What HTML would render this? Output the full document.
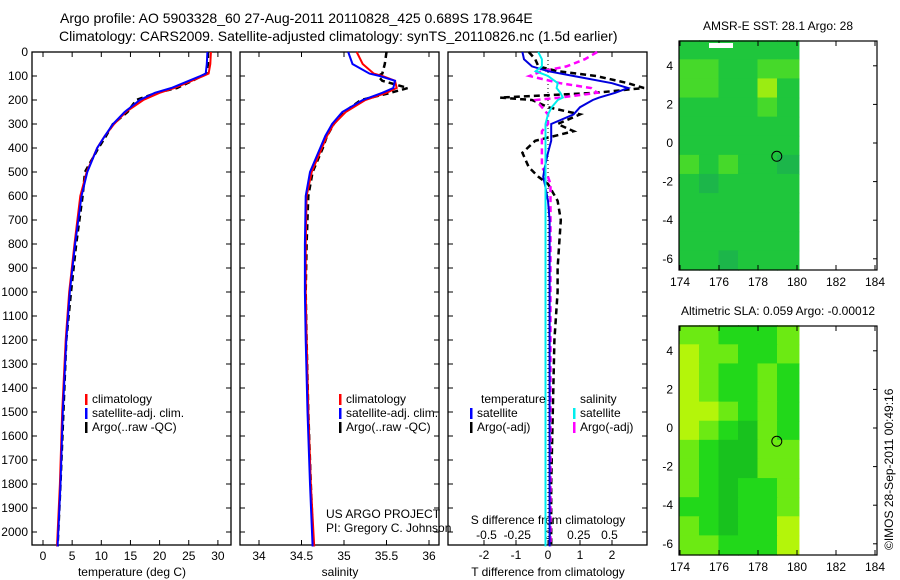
<!DOCTYPE html>
<html><head><meta charset="utf-8"><style>
html,body{margin:0;padding:0;background:#fff;}
svg{display:block;font-family:"Liberation Sans",sans-serif;}
</style></head><body>
<svg id="fig" width="900" height="580" viewBox="0 0 900 580" xmlns="http://www.w3.org/2000/svg">
<text x="60" y="23" font-size="14">Argo profile: AO 5903328_60 27-Aug-2011 20110828_425 0.689S 178.964E</text>
<text x="59" y="41" font-size="14">Climatology: CARS2009. Satellite-adjusted climatology: synTS_20110826.nc (1.5d earlier)</text>
<g id="g"></g>
<text transform="translate(893,550) rotate(-90)" font-size="12">©IMOS 28-Sep-2011 00:49:16</text>
</svg>
<script>
// ---- data ----
const tDepth   = [0, 50, 90, 100, 120, 150, 170, 200, 250, 300, 350, 400, 500, 600, 800, 1000, 1200, 1500, 1800, 2060];
const tClim    = [28.8, 28.7, 28.4, 27.5, 25.5, 22.5, 20.0, 17.2, 14.2, 12.2, 10.6, 9.3, 7.5, 6.4, 5.4, 4.5, 3.9, 3.3, 2.9, 2.4];
const tSat     = [28.2, 28.1, 27.9, 27.0, 25.0, 22.0, 19.2, 16.6, 14.0, 12.0, 10.6, 9.3, 7.6, 6.6, 5.5, 4.6, 4.0, 3.4, 3.0, 2.5];
const tArgo    = [28.3, 28.3, 28.0, 27.2, 25.6, 23.0, 19.5, 16.0, 14.5, 12.0, 10.8, 9.5, 7.2, 6.8, 5.7, 4.8, 4.0, 3.5, 3.0, 2.5];
const sClim    = [35.15, 35.22, 35.35, 35.45, 35.6, 35.62, 35.5, 35.25, 35.02, 34.88, 34.80, 34.74, 34.62, 34.56, 34.55, 34.55, 34.56, 34.58, 34.61, 34.65];
const sSat     = [35.05, 35.1, 35.3, 35.42, 35.6, 35.58, 35.45, 35.22, 34.98, 34.86, 34.78, 34.72, 34.60, 34.55, 34.54, 34.54, 34.55, 34.57, 34.60, 34.63];
const sArgo    = [35.5, 35.48, 35.45, 35.4, 35.45, 35.75, 35.55, 35.2, 35.0, 34.88, 34.80, 34.75, 34.63, 34.58, 34.56, 34.55, 34.56, 34.58, 34.61, 34.64];
const dDepth   = [0, 30, 60, 80, 100, 130, 150, 170, 190, 200, 230, 260, 300, 330, 370, 420, 480, 520, 550, 620, 700, 800, 900, 1000, 1200, 1500, 1800, 2060];
const dTSat    = [-0.8, -0.75, -0.5, 0.0, 0.8, 2.0, 2.5, 2.1, 1.6, 1.4, 1.0, 0.8, 0.1, 0.1, 0.1, 0.0, -0.1, -0.15, -0.1, 0.0, 0.05, 0.05, 0.05, 0.05, 0.05, 0.05, 0.05, 0.05];
const dTArgo   = [-0.6, -0.4, -0.3, 0.3, 1.5, 2.5, 3.0, 1.5, -1.5, -0.5, 0.0, 1.0, 0.3, 0.8, -0.4, -0.8, -0.6, -0.3, 0.0, 0.3, 0.4, 0.35, 0.3, 0.3, 0.2, 0.15, 0.1, 0.1];
const dSSat    = [-0.08, -0.05, -0.05, -0.1, 0.0, 0.08, 0.07, 0.1, 0.12, 0.08, 0.03, 0.0, -0.02, -0.02, -0.02, -0.02, -0.02, -0.02, -0.02, -0.02, -0.02, -0.02, -0.02, -0.02, -0.02, -0.02, -0.02, -0.02];
const dSArgo   = [0.4, 0.3, 0.15, -0.05, -0.15, 0.1, 0.35, 0.4, 0.1, -0.1, -0.05, 0.0, 0.0, -0.05, -0.05, -0.05, -0.05, 0.0, 0.02, 0.02, 0.02, 0.02, 0.02, 0.02, 0.02, 0.02, 0.02, 0.02];
const depthTicks = [0,100,200,300,400,500,600,700,800,900,1000,1100,1200,1300,1400,1500,1600,1700,1800,1900,2000];
const tTicks = [0,5,10,15,20,25,30];
const sTicks = [34,34.5,35,35.5,36];
const dtTicks = [-2,-1,0,1,2];
const dsTicks = [-0.5,-0.25,0,0.25,0.5];
const lonTicks = [174,176,178,180,182,184];
const latTicks = [4,2,0,-2,-4,-6];
// map cell values (rows from north, 1 deg cells), 0=teal 1=green 2=light 3=yellow
const sstGrid = [
 [1,1,1,1,1,1],[2,2,1,1,2,2],[2,2,1,1,3,1],[1,1,1,1,2,1],[1,1,1,1,1,1],[1,1,1,1,1,1],
 [2,1,2,1,1,0],[1,0,1,1,1,1],[1,1,1,1,1,1],[1,1,1,1,1,1],[1,1,1,1,1,1],[1,1,0,1,1,1]];
const slaGrid = [
 [2,2,1,1,1,2],[3,2,2,1,1,2],[3,2,1,1,2,1],[3,2,1,1,2,1],[3,3,2,1,2,1],[3,2,1,0,2,1],
 [2,1,0,0,2,2],[2,1,0,0,2,2],[2,1,0,1,1,2],[1,1,0,1,1,2],[2,1,0,1,1,3],[2,2,1,1,1,3]];
// ---- drawing ----
const NS='http://www.w3.org/2000/svg', G=document.getElementById('g');
function el(t,a,p){const e=document.createElementNS(NS,t);for(const k in a)e.setAttribute(k,a[k]);(p||G).appendChild(e);return e;}
const yD = d => 52 + d*0.24;
const TOP=52, BOT=545;
const panels=[{x0:32,x1:231},{x0:240,x1:439},{x0:448,x1:647}];
const xT = v => 43 + v*5.83;
const xS = v => 259 + (v-34)*85;
const xDT = v => 548 + v*32;
const xDS = v => 548 + v*123;
function frame(p,name){
  const r=el('rect',{x:p.x0,y:TOP,width:p.x1-p.x0,height:BOT-TOP,fill:'none',stroke:'#000','stroke-width':1.3});
  
  
  depthTicks.forEach(d=>{
    el('line',{x1:p.x0,x2:p.x0+5,y1:yD(d),y2:yD(d),stroke:'#000'});
    el('line',{x1:p.x1,x2:p.x1-5,y1:yD(d),y2:yD(d),stroke:'#000'});
  });
}
frame(panels[0],'temperature-panel');frame(panels[1],'salinity-panel');frame(panels[2],'difference-panel');
depthTicks.forEach(d=>{const t=el('text',{x:28,y:yD(d)+4,'font-size':12,'text-anchor':'end'});t.textContent=d;
 
 });
function xticks(ticks,fx,y,name,bothSides){ticks.forEach(v=>{
  el('line',{x1:fx(v),x2:fx(v),y1:BOT,y2:BOT-5,stroke:'#000'});
  if(bothSides) el('line',{x1:fx(v),x2:fx(v),y1:TOP,y2:TOP+5,stroke:'#000'});
  const t=el('text',{x:fx(v),y:y,'font-size':12,'text-anchor':'middle'});t.textContent=v;
  
  });}
xticks(tTicks,xT,560,'temperature-tick-label',true);
xticks(sTicks,xS,560,'salinity-tick-label',true);
xticks(dtTicks,xDT,559,'t-diff-tick-label',true);
dsTicks.forEach(v=>{const t=el('text',{x:xDS(v),y:539,'font-size':12,'text-anchor':'middle'});t.textContent=v;
 
 });
function label(x,y,txt,name,anchor){const t=el('text',{x:x,y:y,'font-size':12,'text-anchor':anchor||'middle'});t.textContent=txt;
 
 }
label(132,576,'temperature (deg C)','temperature-axis-title');
label(340,576,'salinity','salinity-axis-title');
label(548,576,'T difference from climatology','t-diff-axis-title');
label(548,524,'S difference from climatology','s-diff-axis-title');
label(326,518,'US ARGO PROJECT','project-label','start');
label(326,532,'PI: Gregory C. Johnson','pi-label','start');
el('line',{x1:548,x2:548,y1:TOP,y2:BOT,stroke:'#000','stroke-dasharray':'1,3'});
function line(depths,vals,fx,color,dash,name){
  const pts=depths.map((d,i)=>fx(vals[i]).toFixed(1)+','+yD(d).toFixed(1)).join(' ');
  const a={points:pts,fill:'none',stroke:color,'stroke-width':dash?2.5:2};
  if(dash)a['stroke-dasharray']='6,4';
  const e=el('polyline',a);
  
  
}
line(tDepth,tArgo,xT,'#000',true,'temperature-argo-line');
line(tDepth,tClim,xT,'#f00',false,'temperature-climatology-line');
line(tDepth,tSat,xT,'#00f',false,'temperature-satellite-line');
line(tDepth,sArgo,xS,'#000',true,'salinity-argo-line');
line(tDepth,sClim,xS,'#f00',false,'salinity-climatology-line');
line(tDepth,sSat,xS,'#00f',false,'salinity-satellite-line');
line(dDepth,dTArgo,xDT,'#000',true,'t-diff-argo-line');
line(dDepth,dSArgo,xDS,'#f0f',true,'s-diff-argo-line');
line(dDepth,dTSat,xDT,'#00d',false,'t-diff-satellite-line');
line(dDepth,dSSat,xDS,'#0ee',false,'s-diff-satellite-line');
function legend(x,y,items,name){items.forEach((it,i)=>{
  el('rect',{x:x,y:y+i*14-9,width:2.5,height:11,fill:it[0]});
  const t=el('text',{x:x+7,y:y+i*14,'font-size':12});t.textContent=it[1];
  
  });}
legend(85,403,[['#f00','climatology'],['#00f','satellite-adj. clim.'],['#000','Argo(..raw -QC)']],'temperature-legend');
legend(339,403,[['#f00','climatology'],['#00f','satellite-adj. clim.'],['#000','Argo(..raw -QC)']],'salinity-legend');
label(481,403,'temperature','t-diff-legend-header','start');
label(580,403,'salinity','s-diff-legend-header','start');
legend(470,417,[['#00f','satellite'],['#000','Argo(-adj)']],'t-diff-legend');
legend(573,417,[['#0ee','satellite'],['#f0f','Argo(-adj)']],'s-diff-legend');
// maps
const sstCol=['#1cb64a','#1fc63c','#46d92a','#9bec12'];
const slaCol=['#18c21e','#22d81a','#6cea13','#b4f50a'];
const lonX = v => 680 + (v-174)*19.5;
function map(top,grid,cols,title,name){
  const latY = v => top + 102 - v*19.3;
  grid.forEach((row,r)=>row.forEach((v,c)=>{
    const x=lonX(174+c), y=latY(5.3-r*0.99);
    const rc=el('rect',{x:x-0.5,y:y-0.5,width:(c==5?1.1:1)*19.5+1,height:19.2+1,fill:cols[v]});
    
    
  }));
  const f=el('rect',{x:679,y:top,width:198,height:229,fill:'none',stroke:'#000','stroke-width':1.2});
  
  
  lonTicks.forEach(v=>{el('line',{x1:lonX(v),x2:lonX(v),y1:top+229,y2:top+224,stroke:'#000'});
    el('line',{x1:lonX(v),x2:lonX(v),y1:top,y2:top+5,stroke:'#000'});
    const t=el('text',{x:lonX(v),y:top+245,'font-size':12,'text-anchor':'middle'});t.textContent=v;
    
    });
  latTicks.forEach(v=>{el('line',{x1:873,x2:877,y1:latY(v),y2:latY(v),stroke:'#000'});
    const t=el('text',{x:673,y:latY(v)+4,'font-size':12,'text-anchor':'end'});t.textContent=v;
    
    });
  const ttl=el('text',{x:778,y:top-11,'font-size':12,'text-anchor':'middle'});ttl.textContent=title;
  
  
  const c=el('circle',{cx:lonX(178.964),cy:latY(-0.689),r:5,fill:'none',stroke:'#000'});
  
  
}
map(41,sstGrid,sstCol,'AMSR-E SST: 28.1 Argo: 28','sst-map');
el('rect',{x:709,y:43,width:24,height:5,fill:'#fff'});
map(326,slaGrid,slaCol,'Altimetric SLA: 0.059 Argo: -0.00012','sla-map');
</script>
</body></html>
